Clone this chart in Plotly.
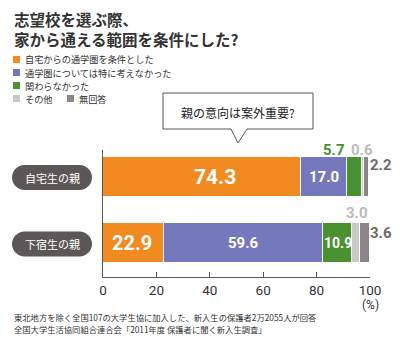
import plotly.graph_objects as go

# ---- data -------------------------------------------------------------
categories = ["下宿生の親", "自宅生の親"]          # bottom -> top
series_names = [
    "自宅からの通学圏を条件とした",
    "通学圏については特に考えなかった",
    "関わらなかった",
    "その他",
    "無回答",
]
val_jitaku_cond = [22.9, 74.3]
val_not_considered = [59.6, 17.0]
val_not_involved = [10.9, 5.7]
val_other = [3.0, 0.6]
val_no_answer = [3.6, 2.2]
x_ticks = [0, 20, 40, 60, 80, 100]

series_values = [val_jitaku_cond, val_not_considered, val_not_involved,
                 val_other, val_no_answer]

# ---- styles -----------------------------------------------------------
colors = ["#F18A21", "#7479BE", "#4A9130", "#C9C9C9", "#8B8685"]
outside_colors = ["#FFFFFF", "#FFFFFF", "#4A9130", "#BBBBBB", "#6E6A69"]
NUM_FONT = "Liberation Sans Narrow, Roboto, Arial"
JP_FONT = "Noto Sans CJK JP"

W, H = 400, 343
L, R, T, B = 103, 30, 150, 66
PW, PH = W - L - R, H - T - B


def px(xp):
    return (xp - L) / PW


def py(yp):
    return (H - B - yp) / PH


def note(x, y, text, font, xanchor="center", xref="paper", yref="paper", **kw):
    return dict(x=x, y=y, xref=xref, yref=yref, text=text, showarrow=False,
                xanchor=xanchor, yanchor="middle", font=font, **kw)


fig = go.Figure()
for name, vals, col in zip(series_names, series_values, colors):
    fig.add_trace(go.Bar(
        y=list(range(len(categories))), x=vals, name=name, orientation="h",
        marker=dict(color=col, line=dict(color="white", width=1)),
        width=0.61, hoverinfo="skip", showlegend=False,
    ))

annotations = []
shapes = []

# value labels: (series index, category index) -> (placement, font size, xshift, yshift)
label_style = {
    (0, 1): ("in", 21, 13, 0), (1, 1): ("in", 15, 0, 0),
    (2, 1): ("out", 15, -20, 27), (3, 1): ("out", 15, -1, 27),
    (4, 1): ("out", 15, 14, 12),
    (0, 0): ("in", 20, -2, 0), (1, 0): ("in", 15, 0, 0),
    (2, 0): ("in", 14, 0, 0), (3, 0): ("out", 15, 1, 30),
    (4, 0): ("out", 15, 16, 10),
}
for ci in range(len(categories)):
    start = 0.0
    for si, vals in enumerate(series_values):
        v = vals[ci]
        center = start + v / 2
        start += v
        kind, size, xs, ys = label_style[(si, ci)]
        color = "white" if kind == "in" else outside_colors[si]
        annotations.append(note(
            center, ci, f"<b>{v:.1f}</b>",
            dict(family=NUM_FONT, size=size, color=color),
            xref="x", yref="y", xshift=xs, yshift=ys,
        ))

# category pills
for ci, cat in enumerate(categories):
    yc = 177.5 if ci == 1 else 244
    x0, x1, r = 12, 92, 12.5
    k = 0.5523 * r
    path = (
        f"M {px(x0 + r)},{py(yc - r)} L {px(x1 - r)},{py(yc - r)} "
        f"C {px(x1 - r + k)},{py(yc - r)} {px(x1)},{py(yc - k)} {px(x1)},{py(yc)} "
        f"C {px(x1)},{py(yc + k)} {px(x1 - r + k)},{py(yc + r)} {px(x1 - r)},{py(yc + r)} "
        f"L {px(x0 + r)},{py(yc + r)} "
        f"C {px(x0 + r - k)},{py(yc + r)} {px(x0)},{py(yc + k)} {px(x0)},{py(yc)} "
        f"C {px(x0)},{py(yc - k)} {px(x0 + r - k)},{py(yc - r)} {px(x0 + r)},{py(yc - r)} Z"
    )
    shapes.append(dict(type="path", path=path, xref="paper", yref="paper",
                       fillcolor="#5B5756", line=dict(width=0), layer="above"))
    annotations.append(note(px((x0 + x1) / 2), py(yc), cat,
                            dict(family=JP_FONT, size=11, color="white")))

# speech bubble
bx0, by0, bx1, by1 = 163, 93, 313, 129
callout = (
    f"M {px(bx0)},{py(by0)} L {px(bx1)},{py(by0)} L {px(bx1)},{py(by1)} "
    f"L {px(247)},{py(by1)} L {px(238)},{py(143)} L {px(231)},{py(by1)} "
    f"L {px(bx0)},{py(by1)} Z"
)
shapes.append(dict(type="path", path=callout, xref="paper", yref="paper",
                   fillcolor="white", line=dict(color="#555555", width=1)))
annotations.append(note(px((bx0 + bx1) / 2), py(112), "親の意向は案外重要?",
                        dict(family=JP_FONT, size=12, color="#222222")))

# title
for text, yc in [("志望校を選ぶ際、", 19), ("家から通える範囲を条件にした?", 39)]:
    annotations.append(note(px(12), py(yc), f"<b>{text}</b>",
                            dict(family=JP_FONT, size=15.5, color="#333333"),
                            xanchor="left"))

# legend
legend_pos = [(13, 59.5), (13, 72.5), (13, 85.5), (13, 98.5), (67, 98.5)]
for (lx, ly), name, col in zip(legend_pos, series_names, colors):
    shapes.append(dict(type="rect", xref="paper", yref="paper",
                       x0=px(lx), x1=px(lx + 7), y0=py(ly - 3.5), y1=py(ly + 3.5),
                       fillcolor=col, line=dict(width=0)))
    annotations.append(note(px(lx + 11), py(ly), name,
                            dict(family=JP_FONT, size=9.2, color="#333333"),
                            xanchor="left", borderpad=0))

# unit label
annotations.append(note(100, py(305), "(%)",
                        dict(family=NUM_FONT, size=12, color="#333333"),
                        xref="x"))

# notes
notes = [
    "東北地方を除く全国107の大学生協に加入した、新入生の保護者2万2055人が回答",
    "全国大学生活協同組合連合会「2011年度 保護者に聞く新入生調査」",
]
for text, yc in zip(notes, [317, 329]):
    annotations.append(note(px(12), py(yc), text,
                            dict(family=JP_FONT, size=8.3, color="#333333"),
                            xanchor="left"))

fig.update_layout(
    width=W, height=H, barmode="stack", bargap=0,
    margin=dict(l=L, r=R, t=T, b=B, autoexpand=False),
    paper_bgcolor="white", plot_bgcolor="white",
    xaxis=dict(range=[0, 100], tickvals=x_ticks, ticks="inside", ticklen=5,
               tickcolor="#555555", showline=True, linecolor="#555555",
               linewidth=1, showgrid=False, zeroline=False,
               ticklabelstandoff=1,
               tickfont=dict(family=NUM_FONT, size=13.5, color="#333333"),
               fixedrange=True),
    yaxis=dict(range=[-0.52, 1.41], showticklabels=False, ticks="",
               showline=True, linecolor="#555555", linewidth=1,
               showgrid=False, zeroline=False, fixedrange=True),
    annotations=annotations, shapes=shapes,
)

fig.write_html("out.html", config={"displayModeBar": False})
